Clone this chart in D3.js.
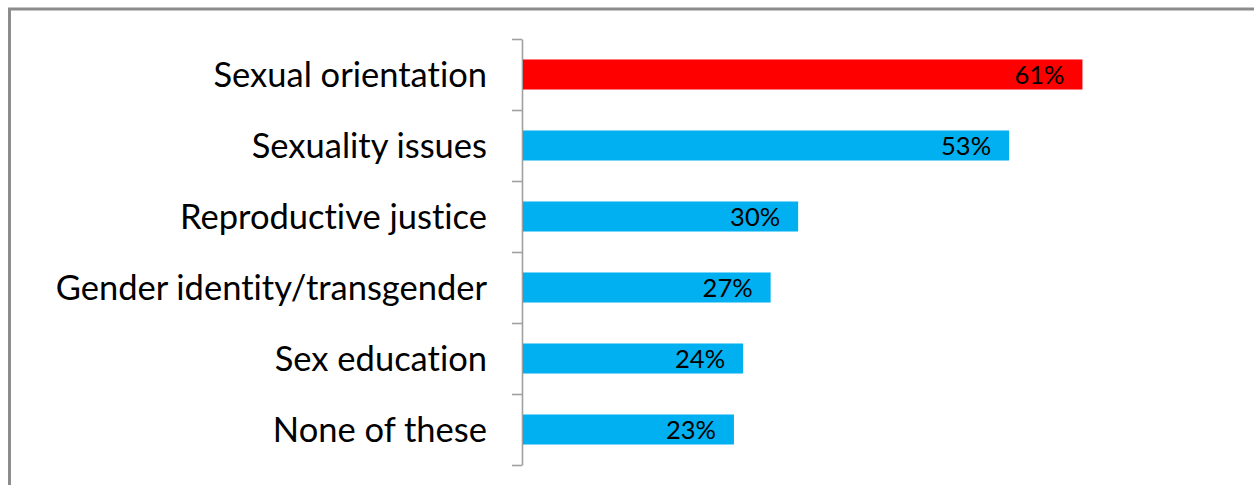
<!DOCTYPE html>
<html>
<head>
<meta charset="utf-8">
<script src="https://cdn.jsdelivr.net/npm/d3@7"></script>
<style>
  body { margin: 0; background: #fff; }
  svg { display: block; }
  text { font-variant-ligatures: none; }
</style>
</head>
<body>
<div class="chart"></div>
<script>
// data
const categories = ["Sexual orientation", "Sexuality issues", "Reproductive justice",
                    "Gender identity/transgender", "Sex education", "None of these"];
const values = [0.61, 0.53, 0.30, 0.27, 0.24, 0.23];
const barColors = ["#ff0000", "#00b0f0", "#00b0f0", "#00b0f0", "#00b0f0", "#00b0f0"];

const width = 1254, height = 485;
const plotTop = 39, plotBottom = 465, axisX = 522;

const svg = d3.select(".chart")
  .append("svg")
  .attr("width", width)
  .attr("height", height);

// frame (only left and top edges show)
svg.append("rect")
  .attr("x", 9.5).attr("y", 9)
  .attr("width", 1400).attr("height", 600)
  .attr("fill", "none")
  .attr("stroke", "#8c8c8c")
  .attr("stroke-width", 3);

const y = d3.scaleBand()
  .domain(categories)
  .range([plotTop, plotBottom])
  .paddingInner(0.577)
  .paddingOuter(0.577 / 2);

const x = d3.scaleLinear()
  .domain([0, 0.7])
  .range([axisX + 1, axisX + 1 + 642]);

// axis with ticks at category boundaries
const yEdge = d3.scaleLinear().domain([0, categories.length]).range([plotTop, plotBottom]);
const axis = svg.append("g")
  .attr("transform", "translate(" + axisX + ",0)")
  .call(d3.axisLeft(yEdge)
    .tickValues(d3.range(categories.length + 1))
    .tickFormat("")
    .tickSize(10)
    .tickSizeOuter(0));
axis.selectAll("path, line")
  .attr("stroke", "#a0a0a0")
  .attr("stroke-width", 1.6);

const bar = svg.selectAll("g.bar")
  .data(categories)
  .enter()
  .append("g")
  .attr("class", "bar");

bar.append("rect")
  .attr("x", x(0))
  .attr("y", d => y(d))
  .attr("width", (d, i) => x(values[i]) - x(0))
  .attr("height", y.bandwidth())
  .attr("fill", (d, i) => barColors[i]);

bar.append("text")
  .attr("x", (d, i) => x(values[i]) - 18)
  .attr("y", d => y(d) + y.bandwidth() / 2 + 9)
  .attr("text-anchor", "end")
  .attr("font-family", "Lato, 'Open Sans', sans-serif")
  .attr("font-size", 25.5)
  .attr("fill", "#000")
  .text((d, i) => Math.round(values[i] * 100) + "%");

// category labels
svg.selectAll("text.cat")
  .data(categories)
  .enter()
  .append("text")
  .attr("class", "cat")
  .attr("x", 487)
  .attr("y", d => y(d) + y.bandwidth() / 2 + 12)
  .attr("text-anchor", "end")
  .attr("font-family", "Lato, 'Open Sans', sans-serif")
  .attr("font-size", 34.5)
  .attr("fill", "#000")
  .text(d => d);
</script>
</body>
</html>
